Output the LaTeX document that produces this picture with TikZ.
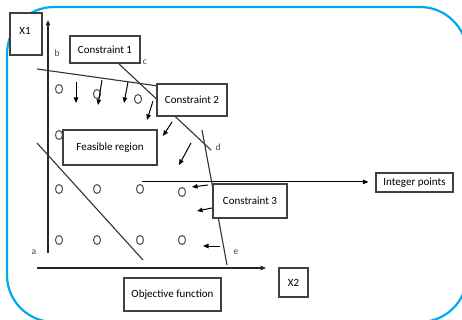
\documentclass[tikz,border=0pt]{standalone}
\usepackage{fontspec}
\setmainfont{Carlito}
\usetikzlibrary{arrows.meta,shapes.geometric}
\definecolor{frameblue}{RGB}{0,170,238}
\definecolor{lblgreen}{RGB}{60,80,45}
\begin{document}
\begin{tikzpicture}[x=1pt,y=-1pt,
  box/.style={draw=black!75,line width=1.1pt,fill=white,inner sep=0pt,font=\fontsize{11}{13}\selectfont},
  ipt/.style={draw=black!65,line width=1.1pt,ellipse,minimum width=7pt,minimum height=9pt,inner sep=0pt},
  cline/.style={draw=black!80,line width=1.1pt},
  arr/.style={draw=black,line width=1pt,-{Triangle[length=5.5pt,width=4.5pt]}},
  lbl/.style={font=\fontsize{9.5}{11}\selectfont,text=lblgreen,inner sep=0pt}]
\useasboundingbox (0,0) rectangle (462,320);
\clip (0,0) rectangle (462,320);
\fill[white] (0,0) rectangle (462,320);
% frame
\draw[frameblue,line width=2.2pt,rounded corners=47pt] (7,7) rectangle (467,322);
% axes
\coordinate (yaxb) at (48,253);
\coordinate (yaxt) at (48,20);
\coordinate (xaxl) at (37,268);
\coordinate (xaxr) at (266,268);
\draw[arr,line width=1.2pt,draw=black!85] (yaxb) -- (yaxt);
\draw[arr,line width=1.2pt,draw=black!85] (xaxl) -- (xaxr);
% constraint lines
\coordinate (c1a) at (37,69);
\coordinate (c1b) at (158,86);
\draw[cline] (c1a) -- (c1b);
\coordinate (c2a) at (118,63);
\coordinate (c2b) at (211,150);
\draw[cline] (c2a) -- (c2b);
\coordinate (c3a) at (202,130);
\coordinate (c3b) at (227,265);
\draw[cline] (c3a) -- (c3b);
\coordinate (oba) at (37,143);
\coordinate (obb) at (143,260);
\draw[cline] (oba) -- (obb);
% integer points
\node[ipt] (p11) at (59,89) {};
\node[ipt] (p12) at (97,94) {};
\node[ipt] (p13) at (138,99) {};
\node[ipt] (p21) at (59,135) {};
\node[ipt] (p31) at (59,189) {};
\node[ipt] (p32) at (97,189) {};
\node[ipt] (p33) at (140,189) {};
\node[ipt] (p34) at (182,192) {};
\node[ipt] (p41) at (59,240) {};
\node[ipt] (p42) at (97,240) {};
\node[ipt] (p43) at (140,240) {};
\node[ipt] (p44) at (182,240) {};
% small arrows
\draw[arr] (76,82) -- (76,103);
\draw[arr] (102,80) -- (98,105);
\draw[arr] (128,82) -- (124,103);
\draw[arr] (153,101) -- (147,120);
\draw[arr] (172,122) -- (163,136);
\draw[arr] (191,143) -- (179,165);
\draw[arr] (208,185) -- (192,187);
\draw[arr] (212,208) -- (197,211);
\draw[arr] (220,246) -- (203,246);
% boxes
\node[box,minimum width=32pt,minimum height=42pt] (x1) at (26,34) {};
\node[font=\fontsize{11}{13}\selectfont,inner sep=0pt] (x1t) at (25,31) {X1};
\node[box,minimum width=70pt,minimum height=27pt] (k1) at (105,49.5) {Constraint 1};
\node[box,minimum width=70pt,minimum height=32pt] (k2) at (192,100) {Constraint 2};
\node[box,minimum width=94pt,minimum height=35pt] (fr) at (110,147.5) {Feasible region};
\node[box,minimum width=74pt,minimum height=34pt] (k3) at (250,201) {Constraint 3};
\node[box,minimum width=77pt,minimum height=19pt] (ip) at (414.5,182.5) {Integer points};
\node[box,minimum width=97pt,minimum height=33pt] (of) at (172.5,294.5) {Objective function};
\node[box,minimum width=29pt,minimum height=29pt] (x2) at (293.5,282.5) {X2};
% integer points connector
\path (p33.north) ++(2,-2) coordinate (ipst);
\path (ipst -| ip.west) ++(-7,0) coordinate (ipend);
\draw[arr] (ipst) -- (ipend);
% point labels
\node[lbl] (la) at (34,252) {a};
\node[lbl] (lb) at (57,53) {b};
\node[lbl] (lc) at (145,62) {c};
\node[lbl] (ld) at (218,147) {d};
\node[lbl] (le) at (236,252) {e};
\end{tikzpicture}
\end{document}
